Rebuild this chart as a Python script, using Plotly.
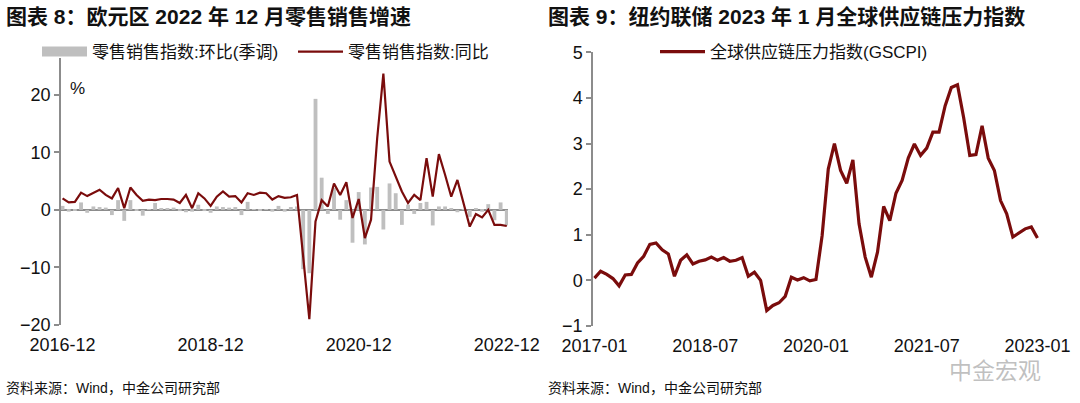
import plotly.graph_objects as go
import pandas as pd

# ---------------- data ----------------
months_left = pd.period_range("2016-12", "2022-12", freq="M").strftime("%Y-%m").tolist()
months_right = pd.period_range("2017-01", "2023-01", freq="M").strftime("%Y-%m").tolist()

retail_mom = [0.7, -0.3, -0.1, 1.3, -0.5, 0.6, 0.5, 0.4, -0.9, 1.7,
              -1.9, 1.7, -0.1, -1.0, 0.1, 1.2, 0.3, 0.3, 0.4, -0.2,
              -0.4, -0.3, 0.9, -0.2, -0.5, 0.6, 0.5, 0.4, 0.5, -0.9,
              1.4, 0.1, -0.1, 0.1, -0.3, 0.7, -0.3, 0.5, 0.6, -10.3,
              -11.0, 19.3, 5.6, -0.7, 3.8, -1.7, 1.7, -5.7, 3.1, -6.0,
              3.9, 4.0, -3.4, 4.6, 2.9, -2.6, 0.9, -0.7, 1.2, 1.4,
              -2.7, 0.6, 0.6, 0.3, -0.4, 0.1, -1.2, 0.3, -0.3, 1.0,
              -1.8, 1.3, -2.7]

retail_yoy = [2.0, 1.3, 1.4, 3.0, 2.4, 2.9, 3.5, 2.6, 2.0, 3.8,
              0.3, 3.9, 2.6, 1.6, 1.8, 1.7, 1.9, 1.9, 1.8, 1.2,
              2.6, 0.3, 2.9, 2.0, 0.7, 2.3, 3.2, 2.3, 2.4, 1.3,
              2.9, 2.6, 3.0, 2.9, 1.8, 2.4, 2.1, 2.2, 2.6, -8.1,
              -19.0, -2.0, 1.7, 0.6, 4.6, 2.6, 4.8, -1.4, 1.9, -4.9,
              -1.7, 12.5, 23.7, 8.4, 5.8, 3.2, 1.2, 2.6, 1.7, 9.0,
              2.3, 9.7, 6.1, 2.3, 5.2, 1.2, -2.9, -0.7, -1.3, 0.0,
              -2.6, -2.6, -2.8]

gscpi = [0.05, 0.20, 0.13, 0.04, -0.12, 0.12, 0.13, 0.38, 0.53, 0.79,
         0.82, 0.67, 0.58, 0.09, 0.44, 0.56, 0.36, 0.42, 0.45, 0.51,
         0.44, 0.50, 0.42, 0.44, 0.50, 0.09, 0.18, 0.00, -0.66, -0.55,
         -0.49, -0.35, 0.07, 0.01, 0.06, -0.01, 0.02, 0.98, 2.44, 3.00,
         2.41, 2.13, 2.64, 1.24, 0.51, 0.07, 0.62, 1.62, 1.31, 1.91,
         2.19, 2.68, 2.99, 2.74, 2.90, 3.25, 3.25, 3.83, 4.23, 4.29,
         3.57, 2.74, 2.76, 3.39, 2.68, 2.41, 1.75, 1.46, 0.95, 1.04,
         1.13, 1.17, 0.93]

left_ticks = ["2016-12", "2018-12", "2020-12", "2022-12"]
right_ticks = ["2017-01", "2018-07", "2020-01", "2021-07", "2023-01"]
left_yticks = [-20, -10, 0, 10, 20]
right_yticks = [-1, 0, 1, 2, 3, 4, 5]

# ---------------- style ----------------
W, H = 1080, 403
FONT = "Liberation Sans, Arial, Noto Sans CJK SC, sans-serif"
RED = "#7a0c0c"
GREY_BAR = "#bfbfbf"
AXIS = "#8c8c8c"
TXT = "#111111"

def px_x(p):
    return p / W

def px_y(p):
    return 1 - p / H

left_dom_x = [px_x(61), px_x(508)]
left_dom_y = [px_y(325), px_y(58)]
right_dom_x = [px_x(593), px_x(1043)]
right_dom_y = [px_y(326), px_y(52.3)]
right_yrange = [-1, 5]
zero_pos = right_dom_y[0] + (0 - right_yrange[0]) / (right_yrange[1] - right_yrange[0]) * (right_dom_y[1] - right_dom_y[0])

fig = go.Figure()
fig.add_trace(go.Bar(x=months_left, y=retail_mom, name="零售销售指数:环比(季调)",
                     marker=dict(color=GREY_BAR, line=dict(width=0)),
                     xaxis="x", yaxis="y", showlegend=False))
# legend key for the bars (wide grey block, as in the original)
fig.add_trace(go.Scatter(x=[None], y=[None], name="零售销售指数:环比(季调)", mode="lines",
                         line=dict(color=GREY_BAR, width=12), xaxis="x", yaxis="y",
                         legend="legend", hoverinfo="skip"))
fig.add_trace(go.Scatter(x=months_left, y=retail_yoy, name="零售销售指数:同比", mode="lines",
                         line=dict(color=RED, width=2.2), xaxis="x", yaxis="y", legend="legend"))
fig.add_trace(go.Scatter(x=months_right, y=gscpi, name="全球供应链压力指数(GSCPI)", mode="lines",
                         line=dict(color=RED, width=3.2), xaxis="x2", yaxis="y2", legend="legend2"))

tickfont = dict(family=FONT, size=18, color=TXT)

fig.update_layout(
    width=W, height=H,
    margin=dict(l=0, r=0, t=0, b=0, pad=0),
    paper_bgcolor="white", plot_bgcolor="white",
    font=dict(family=FONT, color=TXT),
    bargap=0.38,
    showlegend=True,
    xaxis=dict(domain=left_dom_x, anchor="y", type="category", range=[-0.25, 72.2],
               categoryorder="array", categoryarray=months_left,
               tickvals=left_ticks, ticktext=left_ticks, showline=False, ticks="",
               showgrid=False, zeroline=False, tickfont=tickfont, ticklabelstandoff=7,
               automargin=False),
    yaxis=dict(domain=left_dom_y, anchor="x", range=[-20, 26.4], tickvals=left_yticks,
               showline=True, linecolor=AXIS, linewidth=1.5, ticks="outside", ticklen=5,
               tickcolor=AXIS, tickwidth=1.5, showgrid=False, zeroline=True,
               zerolinecolor=AXIS, zerolinewidth=1.5, tickfont=tickfont, automargin=False),
    xaxis2=dict(domain=right_dom_x, anchor="y2", type="category", range=[-0.24, 72.9],
                tickvals=right_ticks, ticktext=right_ticks, showline=False, ticks="",
                showgrid=False, zeroline=False, tickfont=tickfont, ticklabelstandoff=7,
                automargin=False),
    xaxis3=dict(overlaying="x2", anchor="free", position=zero_pos, range=[-0.24, 72.9],
                tickvals=[0, 18, 36, 54, 72], showticklabels=False, ticks="inside",
                ticklen=6, tickcolor=AXIS, tickwidth=1.5, showline=True, linecolor=AXIS,
                linewidth=1.5, showgrid=False, zeroline=False, layer="below traces",
                automargin=False),
    yaxis2=dict(domain=right_dom_y, anchor="x2", range=right_yrange, tickvals=right_yticks,
                showline=True, linecolor=AXIS, linewidth=1.5, ticks="outside", ticklen=5,
                tickcolor=AXIS, tickwidth=1.5, showgrid=False, zeroline=False, tickfont=tickfont,
                automargin=False),
    legend=dict(orientation="h", x=px_x(37), y=px_y(52), xanchor="left", yanchor="middle",
                font=dict(family=FONT, size=17, color=TXT), bgcolor="rgba(0,0,0,0)",
                itemwidth=45, entrywidth=196, entrywidthmode="pixels", tracegroupgap=0),
    legend2=dict(orientation="h", x=px_x(655), y=px_y(52), xanchor="left", yanchor="middle",
                 font=dict(family=FONT, size=17, color=TXT), bgcolor="rgba(0,0,0,0)",
                 itemwidth=45),
)

ann = []
ann.append(dict(text="<b>图表 8：欧元区 2022 年 12 月零售销售增速</b>", x=px_x(4), y=px_y(16),
                xref="paper", yref="paper", xanchor="left", yanchor="middle", showarrow=False,
                font=dict(family=FONT, size=21, color=TXT)))
ann.append(dict(text="<b>图表 9：纽约联储 2023 年 1 月全球供应链压力指数</b>", x=px_x(546), y=px_y(16),
                xref="paper", yref="paper", xanchor="left", yanchor="middle", showarrow=False,
                font=dict(family=FONT, size=21, color=TXT)))
for sx in (4, 546):
    ann.append(dict(text="资料来源：Wind，中金公司研究部", x=px_x(sx), y=px_y(388),
                    xref="paper", yref="paper", xanchor="left", yanchor="middle", showarrow=False,
                    font=dict(family=FONT, size=14, color=TXT)))
ann.append(dict(text="%", x=px_x(78), y=px_y(88), xref="paper", yref="paper",
                xanchor="center", yanchor="middle", showarrow=False,
                font=dict(family=FONT, size=17, color=TXT)))
ann.append(dict(text="中金宏观", x=px_x(995), y=px_y(369), xref="paper", yref="paper",
                xanchor="center", yanchor="middle", showarrow=False,
                font=dict(family="Noto Sans CJK SC", size=23, color="rgba(130,130,130,0.5)")))
fig.update_layout(annotations=ann)

fig.write_html("out.html", config={"displayModeBar": False},
               post_script="document.body.style.margin='0';document.body.style.padding='0';")
